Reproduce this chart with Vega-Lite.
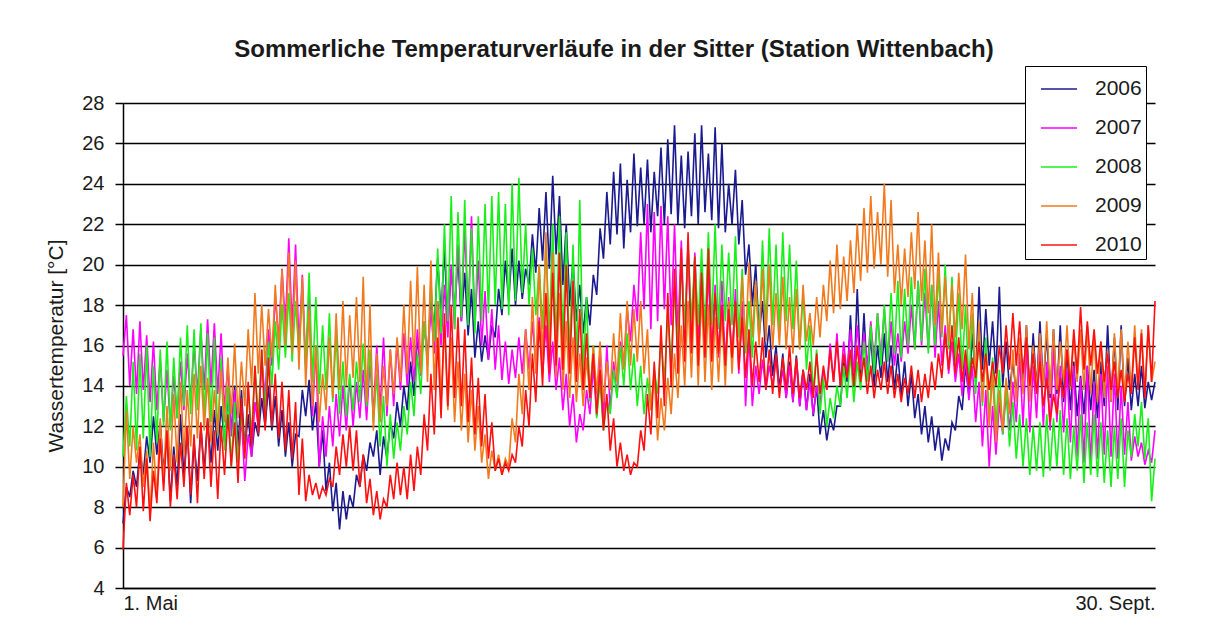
{
"$schema":"https://vega.github.io/schema/vega-lite/v6.json",
"width":1032,"height":485,
"autosize":{"type":"none"},
"padding":{"left":123,"top":103,"right":57,"bottom":43},
"background":"white",
"title":{"text":"Sommerliche Temperaturverläufe in der Sitter (Station Wittenbach)","font":"Liberation Sans","fontSize":24,"fontWeight":"bold","color":"#1a1a1a","anchor":"middle","dx":-25,"offset":4},
"config":{"view":{"stroke":null},"font":"Liberation Sans"},
"data":{"values":[
{"t":0,"2006":7.2,"2007":15.5,"2008":10.5,"2009":8.0,"2010":5.9},
{"t":1,"2006":9.0,"2007":17.5,"2008":13.5,"2009":12.8,"2010":9.2},
{"t":2,"2006":8.5,"2007":14.0,"2008":11.0,"2009":9.4,"2010":7.6},
{"t":3,"2006":9.8,"2007":16.8,"2008":15.2,"2009":12.0,"2010":9.6},
{"t":4,"2006":9.0,"2007":13.6,"2008":10.8,"2009":10.2,"2010":8.0},
{"t":5,"2006":10.8,"2007":17.2,"2008":15.6,"2009":11.6,"2010":11.0},
{"t":6,"2006":9.6,"2007":13.8,"2008":11.4,"2009":9.0,"2010":7.8},
{"t":7,"2006":11.5,"2007":16.5,"2008":16.0,"2009":10.8,"2010":10.4},
{"t":8,"2006":10.2,"2007":13.2,"2008":10.5,"2009":7.6,"2010":7.3},
{"t":9,"2006":12.5,"2007":16.2,"2008":15.0,"2009":11.2,"2010":9.8},
{"t":10,"2006":10.6,"2007":12.8,"2008":11.2,"2009":8.4,"2010":8.2},
{"t":11,"2006":12.2,"2007":15.4,"2008":15.8,"2009":12.4,"2010":11.4},
{"t":12,"2006":9.8,"2007":12.2,"2008":12.0,"2009":9.2,"2010":8.8},
{"t":13,"2006":11.6,"2007":14.8,"2008":16.2,"2009":13.0,"2010":11.8},
{"t":14,"2006":8.3,"2007":12.0,"2008":11.8,"2009":9.8,"2010":8.0},
{"t":15,"2006":11.0,"2007":14.5,"2008":15.4,"2009":13.6,"2010":10.6},
{"t":16,"2006":9.0,"2007":12.4,"2008":12.4,"2009":10.2,"2010":8.4},
{"t":17,"2006":12.6,"2007":15.2,"2008":16.4,"2009":14.2,"2010":11.2},
{"t":18,"2006":9.5,"2007":12.8,"2008":13.0,"2009":10.6,"2010":9.0},
{"t":19,"2006":12.0,"2007":15.6,"2008":17.0,"2009":13.8,"2010":12.0},
{"t":20,"2006":8.2,"2007":13.2,"2008":12.6,"2009":11.0,"2010":8.6},
{"t":21,"2006":11.2,"2007":16.0,"2008":16.8,"2009":14.6,"2010":11.6},
{"t":22,"2006":9.3,"2007":13.6,"2008":12.8,"2009":11.4,"2010":8.2},
{"t":23,"2006":12.0,"2007":16.8,"2008":17.1,"2009":15.0,"2010":12.2},
{"t":24,"2006":9.8,"2007":13.8,"2008":12.4,"2009":11.8,"2010":9.4},
{"t":25,"2006":12.4,"2007":17.3,"2008":16.6,"2009":14.4,"2010":12.4},
{"t":26,"2006":10.2,"2007":14.0,"2008":12.2,"2009":11.2,"2010":9.0},
{"t":27,"2006":12.8,"2007":17.1,"2008":16.4,"2009":13.8,"2010":11.8},
{"t":28,"2006":10.8,"2007":13.6,"2008":11.5,"2009":11.6,"2010":8.4},
{"t":29,"2006":13.0,"2007":16.6,"2008":15.4,"2009":14.8,"2010":12.0},
{"t":30,"2006":11.2,"2007":12.8,"2008":10.8,"2009":12.2,"2010":9.6},
{"t":31,"2006":13.5,"2007":15.0,"2008":14.0,"2009":15.4,"2010":12.6},
{"t":32,"2006":11.8,"2007":11.5,"2008":10.0,"2009":12.6,"2010":10.0},
{"t":33,"2006":14.0,"2007":13.8,"2008":13.2,"2009":16.1,"2010":12.2},
{"t":34,"2006":11.0,"2007":10.2,"2008":10.2,"2009":12.4,"2010":9.2},
{"t":35,"2006":13.8,"2007":12.5,"2008":12.6,"2009":15.2,"2010":13.4},
{"t":36,"2006":10.8,"2007":9.3,"2008":10.8,"2009":13.0,"2010":10.4},
{"t":37,"2006":12.6,"2007":11.6,"2008":13.8,"2009":16.8,"2010":14.2},
{"t":38,"2006":10.5,"2007":10.5,"2008":11.6,"2009":14.0,"2010":11.0},
{"t":39,"2006":12.2,"2007":13.2,"2008":15.0,"2009":18.6,"2010":15.0},
{"t":40,"2006":11.5,"2007":12.0,"2008":12.4,"2009":14.6,"2010":11.6},
{"t":41,"2006":13.4,"2007":15.2,"2008":15.8,"2009":18.0,"2010":15.8},
{"t":42,"2006":12.0,"2007":13.5,"2008":12.6,"2009":15.0,"2010":11.8},
{"t":43,"2006":14.0,"2007":16.8,"2008":16.2,"2009":17.8,"2010":15.4},
{"t":44,"2006":11.8,"2007":15.0,"2008":14.0,"2009":15.4,"2010":12.0},
{"t":45,"2006":13.5,"2007":18.5,"2008":17.2,"2009":19.0,"2010":14.6},
{"t":46,"2006":11.0,"2007":16.2,"2008":14.8,"2009":15.8,"2010":11.4},
{"t":47,"2006":12.8,"2007":19.8,"2008":18.0,"2009":19.8,"2010":14.2},
{"t":48,"2006":10.5,"2007":17.0,"2008":15.4,"2009":16.0,"2010":10.8},
{"t":49,"2006":12.2,"2007":21.3,"2008":18.6,"2009":20.6,"2010":13.8},
{"t":50,"2006":10.0,"2007":16.8,"2008":15.2,"2009":15.6,"2010":10.4},
{"t":51,"2006":11.6,"2007":21.0,"2008":18.2,"2009":20.2,"2010":13.2},
{"t":52,"2006":11.5,"2007":16.0,"2008":15.6,"2009":14.8,"2010":8.6},
{"t":53,"2006":13.8,"2007":19.5,"2008":18.8,"2009":19.4,"2010":11.4},
{"t":54,"2006":12.5,"2007":15.0,"2008":15.0,"2009":14.0,"2010":8.3},
{"t":55,"2006":14.3,"2007":18.6,"2008":19.6,"2009":17.8,"2010":9.6},
{"t":56,"2006":11.8,"2007":12.5,"2008":14.2,"2009":13.0,"2010":8.6},
{"t":57,"2006":13.2,"2007":16.0,"2008":18.4,"2009":16.0,"2010":9.2},
{"t":58,"2006":10.0,"2007":10.0,"2008":13.6,"2009":12.2,"2010":8.4},
{"t":59,"2006":11.8,"2007":12.5,"2008":17.0,"2009":14.6,"2010":9.0},
{"t":60,"2006":8.8,"2007":10.5,"2008":13.8,"2009":12.8,"2010":8.6},
{"t":61,"2006":10.2,"2007":13.0,"2008":17.6,"2009":16.4,"2010":9.4},
{"t":62,"2006":7.8,"2007":11.0,"2008":13.2,"2009":13.4,"2010":9.0},
{"t":63,"2006":9.2,"2007":13.6,"2008":16.6,"2009":17.6,"2010":11.0},
{"t":64,"2006":6.9,"2007":11.5,"2008":12.6,"2009":13.8,"2010":9.6},
{"t":65,"2006":8.8,"2007":14.0,"2008":15.2,"2009":18.2,"2010":11.6},
{"t":66,"2006":7.4,"2007":11.8,"2008":12.5,"2009":14.0,"2010":10.0},
{"t":67,"2006":8.6,"2007":14.4,"2008":14.6,"2009":17.5,"2010":12.0},
{"t":68,"2006":8.0,"2007":12.0,"2008":12.8,"2009":14.4,"2010":9.8},
{"t":69,"2006":9.6,"2007":14.2,"2008":15.2,"2009":18.4,"2010":11.8},
{"t":70,"2006":9.0,"2007":12.4,"2008":13.2,"2009":14.2,"2010":9.0},
{"t":71,"2006":10.6,"2007":14.8,"2008":16.1,"2009":19.4,"2010":10.6},
{"t":72,"2006":9.8,"2007":12.3,"2008":13.0,"2009":13.2,"2010":8.2},
{"t":73,"2006":11.2,"2007":15.2,"2008":15.8,"2009":18.0,"2010":9.4},
{"t":74,"2006":10.5,"2007":12.6,"2008":12.2,"2009":11.8,"2010":7.6},
{"t":75,"2006":11.8,"2007":16.0,"2008":14.6,"2009":15.6,"2010":8.8},
{"t":76,"2006":9.6,"2007":12.8,"2008":11.0,"2009":12.2,"2010":7.4},
{"t":77,"2006":11.5,"2007":16.4,"2008":13.5,"2009":15.0,"2010":8.4},
{"t":78,"2006":10.4,"2007":12.5,"2008":10.0,"2009":13.0,"2010":8.0},
{"t":79,"2006":12.2,"2007":15.8,"2008":12.6,"2009":15.8,"2010":9.6},
{"t":80,"2006":11.4,"2007":13.0,"2008":10.4,"2009":13.6,"2010":8.4},
{"t":81,"2006":13.2,"2007":16.2,"2008":12.2,"2009":16.4,"2010":10.2},
{"t":82,"2006":12.0,"2007":13.8,"2008":10.8,"2009":14.2,"2010":8.6},
{"t":83,"2006":14.0,"2007":16.6,"2008":13.0,"2009":18.0,"2010":10.0},
{"t":84,"2006":12.8,"2007":14.0,"2008":11.6,"2009":14.6,"2010":8.4},
{"t":85,"2006":15.2,"2007":16.4,"2008":14.2,"2009":19.2,"2010":10.6},
{"t":86,"2006":13.5,"2007":14.2,"2008":12.5,"2009":15.0,"2010":8.8},
{"t":87,"2006":16.4,"2007":16.8,"2008":15.6,"2009":19.9,"2010":11.0},
{"t":88,"2006":14.8,"2007":14.5,"2008":13.6,"2009":14.6,"2010":9.6},
{"t":89,"2006":17.0,"2007":17.2,"2008":17.2,"2009":19.0,"2010":12.6},
{"t":90,"2006":15.5,"2007":15.2,"2008":15.0,"2009":14.2,"2010":10.8},
{"t":91,"2006":18.2,"2007":17.8,"2008":19.2,"2009":20.2,"2010":14.6},
{"t":92,"2006":16.8,"2007":15.6,"2008":16.2,"2009":13.8,"2010":11.6},
{"t":93,"2006":20.3,"2007":18.2,"2008":20.8,"2009":18.2,"2010":16.4},
{"t":94,"2006":17.5,"2007":16.0,"2008":16.6,"2009":13.2,"2010":12.4},
{"t":95,"2006":20.8,"2007":19.0,"2008":22.0,"2009":17.0,"2010":17.6},
{"t":96,"2006":17.0,"2007":16.4,"2008":17.2,"2009":12.8,"2010":13.0},
{"t":97,"2006":19.8,"2007":20.0,"2008":23.4,"2009":16.4,"2010":18.0},
{"t":98,"2006":17.8,"2007":16.8,"2008":16.8,"2009":12.2,"2010":13.4},
{"t":99,"2006":20.4,"2007":21.0,"2008":22.6,"2009":15.2,"2010":17.4},
{"t":100,"2006":17.2,"2007":17.2,"2008":17.4,"2009":11.8,"2010":13.0},
{"t":101,"2006":19.6,"2007":21.8,"2008":23.2,"2009":14.6,"2010":16.8},
{"t":102,"2006":16.5,"2007":17.5,"2008":17.0,"2009":11.2,"2010":12.2},
{"t":103,"2006":18.8,"2007":22.4,"2008":21.8,"2009":13.8,"2010":15.4},
{"t":104,"2006":15.4,"2007":17.0,"2008":16.6,"2009":10.8,"2010":11.6},
{"t":105,"2006":17.2,"2007":20.2,"2008":22.4,"2009":13.0,"2010":14.4},
{"t":106,"2006":15.2,"2007":16.0,"2008":17.2,"2009":10.2,"2010":11.0},
{"t":107,"2006":16.5,"2007":18.7,"2008":23.0,"2009":11.6,"2010":13.6},
{"t":108,"2006":15.3,"2007":15.3,"2008":17.6,"2009":9.4,"2010":10.4},
{"t":109,"2006":17.0,"2007":17.8,"2008":23.4,"2009":10.8,"2010":12.2},
{"t":110,"2006":16.4,"2007":14.8,"2008":18.0,"2009":9.8,"2010":9.8},
{"t":111,"2006":18.8,"2007":17.0,"2008":23.6,"2009":10.6,"2010":10.4},
{"t":112,"2006":17.5,"2007":14.3,"2008":17.8,"2009":9.6,"2010":9.6},
{"t":113,"2006":20.2,"2007":16.2,"2008":23.0,"2009":10.4,"2010":10.2},
{"t":114,"2006":18.2,"2007":14.1,"2008":17.5,"2009":10.0,"2010":9.8},
{"t":115,"2006":20.8,"2007":15.8,"2008":24.0,"2009":12.4,"2010":10.6},
{"t":116,"2006":18.0,"2007":14.4,"2008":18.2,"2009":11.2,"2010":10.2},
{"t":117,"2006":20.2,"2007":16.4,"2008":24.3,"2009":14.6,"2010":12.0},
{"t":118,"2006":18.3,"2007":14.6,"2008":18.6,"2009":12.6,"2010":11.0},
{"t":119,"2006":19.8,"2007":16.8,"2008":22.0,"2009":16.8,"2010":13.8},
{"t":120,"2006":19.0,"2007":14.8,"2008":18.0,"2009":13.8,"2010":12.0},
{"t":121,"2006":21.5,"2007":17.2,"2008":20.8,"2009":18.4,"2010":15.6},
{"t":122,"2006":19.6,"2007":15.0,"2008":17.5,"2009":14.6,"2010":13.2},
{"t":123,"2006":22.8,"2007":17.4,"2008":20.0,"2009":20.0,"2010":17.2},
{"t":124,"2006":20.2,"2007":14.6,"2008":16.8,"2009":15.2,"2010":14.0},
{"t":125,"2006":23.6,"2007":17.0,"2008":21.2,"2009":21.6,"2010":18.6},
{"t":126,"2006":19.8,"2007":14.2,"2008":16.4,"2009":15.0,"2010":14.6},
{"t":127,"2006":24.4,"2007":16.2,"2008":22.0,"2009":20.6,"2010":19.6},
{"t":128,"2006":20.5,"2007":13.8,"2008":16.0,"2009":14.4,"2010":15.0},
{"t":129,"2006":23.4,"2007":15.4,"2008":22.4,"2009":18.6,"2010":20.6},
{"t":130,"2006":19.0,"2007":12.8,"2008":16.2,"2009":13.8,"2010":14.8},
{"t":131,"2006":22.0,"2007":14.6,"2008":21.6,"2009":17.2,"2010":20.0},
{"t":132,"2006":18.0,"2007":12.0,"2008":15.4,"2009":13.4,"2010":14.6},
{"t":133,"2006":20.2,"2007":13.6,"2008":21.0,"2009":16.4,"2010":19.2},
{"t":134,"2006":17.2,"2007":11.2,"2008":15.0,"2009":13.2,"2010":14.2},
{"t":135,"2006":19.0,"2007":12.6,"2008":23.2,"2009":15.6,"2010":17.8},
{"t":136,"2006":16.6,"2007":11.8,"2008":14.6,"2009":13.0,"2010":13.8},
{"t":137,"2006":18.4,"2007":13.8,"2008":18.4,"2009":15.4,"2010":16.6},
{"t":138,"2006":17.0,"2007":12.6,"2008":13.2,"2009":13.4,"2010":13.4},
{"t":139,"2006":19.5,"2007":15.0,"2008":16.0,"2009":16.0,"2010":15.6},
{"t":140,"2006":18.5,"2007":12.5,"2008":12.4,"2009":13.6,"2010":12.6},
{"t":141,"2006":21.8,"2007":15.8,"2008":14.2,"2009":16.2,"2010":14.8},
{"t":142,"2006":20.3,"2007":12.3,"2008":11.8,"2009":13.2,"2010":11.8},
{"t":143,"2006":23.6,"2007":16.0,"2008":13.4,"2009":15.2,"2010":13.6},
{"t":144,"2006":21.0,"2007":12.8,"2008":12.6,"2009":13.8,"2010":10.8},
{"t":145,"2006":24.6,"2007":15.2,"2008":14.8,"2009":16.6,"2010":12.4},
{"t":146,"2006":21.5,"2007":13.5,"2008":13.4,"2009":14.2,"2010":10.0},
{"t":147,"2006":25.0,"2007":16.2,"2008":16.0,"2009":17.6,"2010":11.2},
{"t":148,"2006":20.8,"2007":15.0,"2008":14.0,"2009":14.8,"2010":9.8},
{"t":149,"2006":24.2,"2007":17.8,"2008":16.6,"2009":18.2,"2010":10.6},
{"t":150,"2006":21.6,"2007":16.2,"2008":13.8,"2009":15.0,"2010":9.6},
{"t":151,"2006":25.5,"2007":19.0,"2008":15.6,"2009":17.8,"2010":10.2},
{"t":152,"2006":21.9,"2007":17.2,"2008":13.0,"2009":15.2,"2010":10.0},
{"t":153,"2006":24.8,"2007":21.6,"2008":15.0,"2009":18.2,"2010":11.8},
{"t":154,"2006":22.0,"2007":17.8,"2008":12.6,"2009":14.6,"2010":10.8},
{"t":155,"2006":25.2,"2007":23.0,"2008":14.4,"2009":16.8,"2010":13.6},
{"t":156,"2006":21.6,"2007":16.8,"2008":12.8,"2009":12.8,"2010":11.6},
{"t":157,"2006":24.6,"2007":22.6,"2008":14.8,"2009":14.6,"2010":15.2},
{"t":158,"2006":22.4,"2007":17.2,"2008":13.6,"2009":11.3,"2010":12.4},
{"t":159,"2006":25.8,"2007":22.9,"2008":16.4,"2009":13.4,"2010":17.0},
{"t":160,"2006":22.0,"2007":17.8,"2008":14.2,"2009":11.8,"2010":13.0},
{"t":161,"2006":26.2,"2007":22.4,"2008":17.6,"2009":14.4,"2010":18.6},
{"t":162,"2006":22.5,"2007":17.0,"2008":15.0,"2009":12.6,"2010":14.0},
{"t":163,"2006":26.9,"2007":22.0,"2008":18.8,"2009":15.6,"2010":19.8},
{"t":164,"2006":22.0,"2007":16.5,"2008":16.0,"2009":13.4,"2010":14.6},
{"t":165,"2006":25.4,"2007":21.2,"2008":20.2,"2009":17.0,"2010":20.8},
{"t":166,"2006":21.8,"2007":16.2,"2008":16.8,"2009":14.0,"2010":15.2},
{"t":167,"2006":25.6,"2007":21.0,"2008":21.0,"2009":18.2,"2010":21.6},
{"t":168,"2006":22.4,"2007":15.8,"2008":17.2,"2009":14.4,"2010":15.6},
{"t":169,"2006":26.5,"2007":20.6,"2008":20.4,"2009":19.0,"2010":20.4},
{"t":170,"2006":22.0,"2007":16.0,"2008":17.0,"2009":14.0,"2010":15.0},
{"t":171,"2006":26.9,"2007":20.2,"2008":20.8,"2009":18.6,"2010":19.6},
{"t":172,"2006":22.6,"2007":15.8,"2008":16.6,"2009":14.2,"2010":15.4},
{"t":173,"2006":25.5,"2007":19.6,"2008":21.6,"2009":18.0,"2010":20.8},
{"t":174,"2006":22.2,"2007":15.6,"2008":17.0,"2009":13.8,"2010":15.2},
{"t":175,"2006":26.8,"2007":19.0,"2008":22.0,"2009":17.4,"2010":18.6},
{"t":176,"2006":21.8,"2007":15.4,"2008":16.8,"2009":14.2,"2010":15.6},
{"t":177,"2006":26.0,"2007":19.2,"2008":21.0,"2009":17.6,"2010":18.0},
{"t":178,"2006":21.6,"2007":15.0,"2008":17.2,"2009":14.0,"2010":15.0},
{"t":179,"2006":24.0,"2007":18.4,"2008":20.6,"2009":18.2,"2010":17.8},
{"t":180,"2006":22.0,"2007":15.2,"2008":17.0,"2009":14.6,"2010":15.4},
{"t":181,"2006":24.7,"2007":18.8,"2008":21.4,"2009":18.0,"2010":18.2},
{"t":182,"2006":21.0,"2007":14.6,"2008":16.4,"2009":15.2,"2010":14.8},
{"t":183,"2006":23.2,"2007":18.2,"2008":19.8,"2009":19.4,"2010":17.4},
{"t":184,"2006":19.5,"2007":13.0,"2008":15.6,"2009":16.0,"2010":14.4},
{"t":185,"2006":21.0,"2007":16.5,"2008":18.2,"2009":20.1,"2010":16.8},
{"t":186,"2006":18.0,"2007":13.0,"2008":15.4,"2009":16.4,"2010":14.0},
{"t":187,"2006":20.0,"2007":15.0,"2008":19.0,"2009":19.2,"2010":16.2},
{"t":188,"2006":16.5,"2007":13.6,"2008":16.2,"2009":16.0,"2010":14.2},
{"t":189,"2006":18.2,"2007":15.3,"2008":21.2,"2009":19.8,"2010":16.4},
{"t":190,"2006":15.4,"2007":13.8,"2008":16.8,"2009":16.2,"2010":13.8},
{"t":191,"2006":17.0,"2007":15.0,"2008":21.8,"2009":20.0,"2010":15.8},
{"t":192,"2006":14.5,"2007":14.0,"2008":17.0,"2009":15.8,"2010":13.6},
{"t":193,"2006":16.0,"2007":15.4,"2008":21.0,"2009":18.6,"2010":15.6},
{"t":194,"2006":13.8,"2007":13.7,"2008":16.6,"2009":16.0,"2010":13.4},
{"t":195,"2006":15.6,"2007":14.8,"2008":21.6,"2009":19.4,"2010":15.4},
{"t":196,"2006":13.4,"2007":13.4,"2008":17.2,"2009":15.8,"2010":13.8},
{"t":197,"2006":15.2,"2007":15.0,"2008":21.0,"2009":18.4,"2010":16.0},
{"t":198,"2006":13.2,"2007":13.2,"2008":16.8,"2009":15.6,"2010":13.6},
{"t":199,"2006":15.5,"2007":15.2,"2008":20.2,"2009":18.8,"2010":15.4},
{"t":200,"2006":13.0,"2007":13.0,"2008":15.8,"2009":15.8,"2010":13.4},
{"t":201,"2006":14.8,"2007":14.6,"2008":18.6,"2009":19.0,"2010":14.8},
{"t":202,"2006":12.8,"2007":12.8,"2008":14.8,"2009":16.2,"2010":13.8},
{"t":203,"2006":14.6,"2007":14.2,"2008":17.0,"2009":17.6,"2010":15.2},
{"t":204,"2006":12.5,"2007":12.6,"2008":13.6,"2009":16.0,"2010":13.4},
{"t":205,"2006":14.0,"2007":14.0,"2008":15.8,"2009":18.4,"2010":15.6},
{"t":206,"2006":11.6,"2007":13.0,"2008":12.6,"2009":16.4,"2010":13.6},
{"t":207,"2006":12.8,"2007":14.8,"2008":14.4,"2009":19.0,"2010":15.0},
{"t":208,"2006":11.3,"2007":13.8,"2008":12.0,"2009":17.2,"2010":13.8},
{"t":209,"2006":12.4,"2007":16.1,"2008":13.4,"2009":20.2,"2010":15.8},
{"t":210,"2006":11.8,"2007":14.2,"2008":12.4,"2009":17.6,"2010":14.2},
{"t":211,"2006":13.0,"2007":16.6,"2008":14.0,"2009":21.0,"2010":16.2},
{"t":212,"2006":13.0,"2007":14.0,"2008":13.0,"2009":17.8,"2010":14.0},
{"t":213,"2006":15.2,"2007":16.2,"2008":15.0,"2009":20.4,"2010":15.6},
{"t":214,"2006":14.2,"2007":14.5,"2008":13.4,"2009":18.2,"2010":14.4},
{"t":215,"2006":17.5,"2007":16.8,"2008":15.6,"2009":21.2,"2010":15.8},
{"t":216,"2006":14.0,"2007":14.6,"2008":13.2,"2009":18.6,"2010":14.0},
{"t":217,"2006":18.8,"2007":17.0,"2008":15.2,"2009":22.0,"2010":16.0},
{"t":218,"2006":14.5,"2007":14.8,"2008":13.8,"2009":19.2,"2010":14.2},
{"t":219,"2006":17.6,"2007":16.6,"2008":16.2,"2009":22.8,"2010":15.4},
{"t":220,"2006":14.2,"2007":15.0,"2008":14.2,"2009":19.6,"2010":13.6},
{"t":221,"2006":16.5,"2007":17.2,"2008":17.0,"2009":23.4,"2010":15.0},
{"t":222,"2006":14.0,"2007":15.2,"2008":14.6,"2009":19.8,"2010":13.4},
{"t":223,"2006":16.0,"2007":17.6,"2008":17.6,"2009":22.6,"2010":14.8},
{"t":224,"2006":14.4,"2007":15.4,"2008":15.0,"2009":20.0,"2010":13.8},
{"t":225,"2006":16.6,"2007":17.8,"2008":18.0,"2009":24.0,"2010":15.2},
{"t":226,"2006":14.2,"2007":15.2,"2008":15.2,"2009":19.4,"2010":13.6},
{"t":227,"2006":16.0,"2007":17.2,"2008":18.6,"2009":23.2,"2010":15.0},
{"t":228,"2006":13.8,"2007":15.0,"2008":15.6,"2009":18.6,"2010":13.4},
{"t":229,"2006":15.6,"2007":16.6,"2008":19.2,"2009":21.0,"2010":14.6},
{"t":230,"2006":13.5,"2007":15.2,"2008":15.4,"2009":18.0,"2010":13.2},
{"t":231,"2006":15.2,"2007":17.2,"2008":18.8,"2009":20.8,"2010":14.4},
{"t":232,"2006":13.0,"2007":15.6,"2008":16.0,"2009":18.4,"2010":13.6},
{"t":233,"2006":14.6,"2007":18.0,"2008":19.4,"2009":21.6,"2010":15.0},
{"t":234,"2006":12.4,"2007":15.8,"2008":15.8,"2009":18.8,"2010":13.4},
{"t":235,"2006":13.6,"2007":19.2,"2008":19.2,"2009":22.6,"2010":14.8},
{"t":236,"2006":11.6,"2007":16.0,"2008":16.2,"2009":18.2,"2010":13.2},
{"t":237,"2006":13.0,"2007":18.6,"2008":19.8,"2009":21.2,"2010":14.6},
{"t":238,"2006":11.2,"2007":15.8,"2008":15.6,"2009":17.6,"2010":13.4},
{"t":239,"2006":12.5,"2007":19.0,"2008":19.0,"2009":22.0,"2010":15.2},
{"t":240,"2006":10.8,"2007":15.4,"2008":16.0,"2009":17.0,"2010":13.8},
{"t":241,"2006":12.0,"2007":18.2,"2008":19.6,"2009":20.6,"2010":15.6},
{"t":242,"2006":10.3,"2007":15.0,"2008":16.4,"2009":16.6,"2010":14.4},
{"t":243,"2006":11.4,"2007":17.0,"2008":20.0,"2009":19.4,"2010":16.6},
{"t":244,"2006":10.8,"2007":14.6,"2008":15.8,"2009":16.2,"2010":14.8},
{"t":245,"2006":12.2,"2007":16.2,"2008":19.4,"2009":19.0,"2010":17.0},
{"t":246,"2006":11.8,"2007":14.2,"2008":15.2,"2009":16.4,"2010":14.6},
{"t":247,"2006":13.5,"2007":15.6,"2008":18.6,"2009":19.6,"2010":16.4},
{"t":248,"2006":12.8,"2007":13.5,"2008":14.8,"2009":16.8,"2010":14.2},
{"t":249,"2006":15.0,"2007":15.4,"2008":18.0,"2009":20.5,"2010":15.8},
{"t":250,"2006":13.5,"2007":13.3,"2008":14.0,"2009":15.8,"2010":14.0},
{"t":251,"2006":16.6,"2007":15.0,"2008":17.6,"2009":18.6,"2010":15.4},
{"t":252,"2006":14.2,"2007":12.2,"2008":13.6,"2009":14.4,"2010":14.4},
{"t":253,"2006":18.9,"2007":14.2,"2008":16.8,"2009":17.2,"2010":16.2},
{"t":254,"2006":14.8,"2007":11.0,"2008":13.0,"2009":13.2,"2010":14.2},
{"t":255,"2006":17.8,"2007":13.8,"2008":16.4,"2009":15.6,"2010":15.6},
{"t":256,"2006":15.0,"2007":10.0,"2008":12.2,"2009":12.0,"2010":13.8},
{"t":257,"2006":17.2,"2007":13.0,"2008":15.4,"2009":14.6,"2010":15.2},
{"t":258,"2006":14.6,"2007":10.6,"2008":12.0,"2009":11.2,"2010":14.0},
{"t":259,"2006":18.9,"2007":13.2,"2008":14.8,"2009":13.8,"2010":16.0},
{"t":260,"2006":14.0,"2007":11.6,"2008":11.6,"2009":11.8,"2010":14.6},
{"t":261,"2006":16.2,"2007":13.6,"2008":14.0,"2009":14.4,"2010":17.0},
{"t":262,"2006":13.8,"2007":11.8,"2008":11.0,"2009":12.6,"2010":14.8},
{"t":263,"2006":15.2,"2007":14.2,"2008":13.2,"2009":15.8,"2010":17.6},
{"t":264,"2006":13.6,"2007":12.2,"2008":10.4,"2009":13.2,"2010":15.0},
{"t":265,"2006":15.6,"2007":15.5,"2008":12.6,"2009":16.4,"2010":17.2},
{"t":266,"2006":14.0,"2007":12.0,"2008":10.0,"2009":13.6,"2010":14.6},
{"t":267,"2006":17.0,"2007":16.1,"2008":12.4,"2009":17.0,"2010":16.4},
{"t":268,"2006":13.5,"2007":11.7,"2008":9.6,"2009":13.2,"2010":14.0},
{"t":269,"2006":16.6,"2007":15.0,"2008":12.0,"2009":16.0,"2010":15.6},
{"t":270,"2006":13.8,"2007":12.4,"2008":9.8,"2009":13.8,"2010":13.6},
{"t":271,"2006":17.2,"2007":15.8,"2008":12.2,"2009":16.6,"2010":15.2},
{"t":272,"2006":14.0,"2007":12.0,"2008":9.5,"2009":14.0,"2010":13.0},
{"t":273,"2006":16.6,"2007":15.2,"2008":12.6,"2009":17.2,"2010":14.4},
{"t":274,"2006":13.4,"2007":11.8,"2008":9.8,"2009":13.6,"2010":12.2},
{"t":275,"2006":16.8,"2007":16.0,"2008":12.4,"2009":16.8,"2010":13.6},
{"t":276,"2006":13.6,"2007":12.2,"2008":10.0,"2009":13.8,"2010":12.6},
{"t":277,"2006":17.0,"2007":15.0,"2008":12.8,"2009":16.2,"2010":14.4},
{"t":278,"2006":13.2,"2007":11.7,"2008":9.6,"2009":14.2,"2010":13.4},
{"t":279,"2006":15.8,"2007":14.8,"2008":12.4,"2009":17.0,"2010":15.8},
{"t":280,"2006":12.8,"2007":11.2,"2008":9.4,"2009":13.8,"2010":14.0},
{"t":281,"2006":15.2,"2007":15.0,"2008":12.0,"2009":16.4,"2010":16.8},
{"t":282,"2006":12.5,"2007":10.5,"2008":9.8,"2009":14.2,"2010":14.6},
{"t":283,"2006":14.5,"2007":14.4,"2008":12.6,"2009":16.8,"2010":17.9},
{"t":284,"2006":12.6,"2007":10.2,"2008":9.2,"2009":13.8,"2010":14.8},
{"t":285,"2006":15.0,"2007":15.0,"2008":12.2,"2009":17.0,"2010":17.2},
{"t":286,"2006":12.8,"2007":10.0,"2008":9.6,"2009":13.6,"2010":15.0},
{"t":287,"2006":14.8,"2007":14.2,"2008":12.6,"2009":16.6,"2010":16.8},
{"t":288,"2006":12.4,"2007":10.4,"2008":9.5,"2009":13.2,"2010":14.6},
{"t":289,"2006":15.2,"2007":14.6,"2008":12.2,"2009":16.2,"2010":16.2},
{"t":290,"2006":13.0,"2007":10.6,"2008":9.2,"2009":13.4,"2010":14.2},
{"t":291,"2006":17.0,"2007":15.0,"2008":11.8,"2009":15.8,"2010":15.6},
{"t":292,"2006":13.2,"2007":10.5,"2008":9.0,"2009":13.2,"2010":13.8},
{"t":293,"2006":16.4,"2007":14.6,"2008":12.0,"2009":16.6,"2010":15.2},
{"t":294,"2006":12.8,"2007":10.4,"2008":9.4,"2009":13.6,"2010":13.4},
{"t":295,"2006":17.0,"2007":14.0,"2008":12.4,"2009":16.8,"2010":14.8},
{"t":296,"2006":13.0,"2007":10.6,"2008":9.0,"2009":13.4,"2010":13.2},
{"t":297,"2006":15.4,"2007":13.2,"2008":11.8,"2009":16.2,"2010":14.6},
{"t":298,"2006":12.8,"2007":10.3,"2008":10.5,"2009":13.8,"2010":13.6},
{"t":299,"2006":14.6,"2007":11.5,"2008":12.6,"2009":17.0,"2010":16.4},
{"t":300,"2006":13.0,"2007":10.5,"2008":11.0,"2009":14.0,"2010":13.8},
{"t":301,"2006":15.0,"2007":11.2,"2008":13.2,"2009":16.8,"2010":16.6},
{"t":302,"2006":12.9,"2007":10.1,"2008":10.4,"2009":13.6,"2010":13.4},
{"t":303,"2006":14.2,"2007":10.8,"2008":12.4,"2009":17.0,"2010":17.0},
{"t":304,"2006":13.3,"2007":10.2,"2008":8.3,"2009":14.2,"2010":14.2},
{"t":305,"2006":14.2,"2007":11.8,"2008":10.4,"2009":15.2,"2010":18.2}
]},
"transform":[{"fold":["2006","2007","2008","2009","2010"],"as":["Jahr","T"]}],
"mark":{"type":"line","strokeWidth":1.6,"interpolate":"linear"},
"encoding":{
"x":{"field":"t","type":"quantitative","scale":{"domain":[0,305],"nice":false,"zero":false},
"axis":{"title":null,"values":[0,305],"labelExpr":"datum.value==0?'1. Mai':'30. Sept.'","labelFlush":true,"grid":false,"ticks":false,"domainColor":"#000","domainWidth":1.5,"labelFontSize":20,"labelColor":"#1a1a1a","labelPadding":5,"labelFont":"Liberation Sans"}},
"y":{"field":"T","type":"quantitative","scale":{"domain":[4,28],"nice":false,"zero":false},
"axis":{"title":"Wassertemperatur [°C]","titleFontSize":21,"titleFontWeight":"normal","titleColor":"#1a1a1a","titleFont":"Liberation Sans","titlePadding":15,
"values":[4,6,8,10,12,14,16,18,20,22,24,26,28],"grid":true,"gridColor":"#000","gridWidth":1.5,"gridOpacity":1,"domainColor":"#000","domainWidth":1.5,"tickColor":"#000","tickSize":8,"tickWidth":1.5,"labelFontSize":20,"labelColor":"#1a1a1a","labelPadding":11,"labelFont":"Liberation Sans"}},
"color":{"field":"Jahr","type":"nominal","scale":{"domain":["2006","2007","2008","2009","2010"],"range":["#1b1b8f","#ff00ff","#19f019","#f27a1e","#ff1010"]},
"legend":{"title":null,"orient":"none","legendX":902,"legendY":-37,"symbolType":"stroke","symbolSize":1296,"symbolOffset":11,"symbolStrokeWidth":1.6,"labelFontSize":21,"labelColor":"#1a1a1a","labelFont":"Liberation Sans","labelOffset":17,"labelExpr":"datum.label + '\u00a0\u00a0\u00a0'","rowPadding":10,"padding":4,"strokeColor":"#000","fillColor":"#fff","cornerRadius":0}}
}
}
